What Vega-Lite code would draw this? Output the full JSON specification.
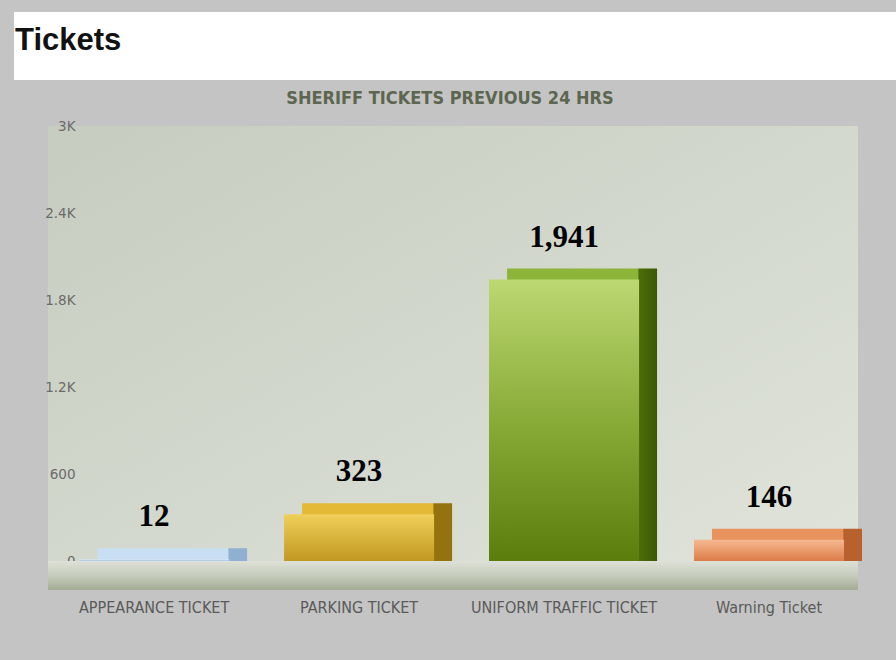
{
  "$schema": "https://vega.github.io/schema/vega-lite/v6.json",
  "background": "#c4c4c4",
  "padding": {"left": 14, "top": 12, "right": 0, "bottom": 48},
  "spacing": 10,
  "center": true,
  "config": {"view": {"stroke": null}},
  "vconcat": [
    {
      "width": 882,
      "height": 68,
      "view": {"fill": "#ffffff", "stroke": null},
      "data": {"values": [{"heading": "Tickets"}]},
      "mark": {"type": "text", "align": "left", "baseline": "middle", "font": "Liberation Sans", "fontWeight": "bold", "fontSize": 31, "color": "#111111", "dx": 1, "dy": -5},
      "encoding": {
        "x": {"datum": 0, "type": "quantitative", "scale": {"domain": [0, 1]}, "axis": null},
        "text": {"field": "heading", "type": "nominal"}
      }
    },
    {
      "width": 810,
      "height": 464,
      "view": {"fill": {"gradient": "linear", "x1": 0, "y1": 0, "x2": 1, "y2": 1, "stops": [{"offset": 0, "color": "#c7ccc0"}, {"offset": 1, "color": "#e0e4db"}]}, "stroke": null},
      "title": {"text": "SHERIFF TICKETS PREVIOUS 24 HRS", "font": "DejaVu Sans Condensed", "fontWeight": "bold", "fontSize": 18, "color": "#5c6650", "anchor": "middle", "offset": 11, "dx": -3},
      "data": {"values": [
        {"ticket": "APPEARANCE TICKET", "count": 12},
        {"ticket": "PARKING TICKET", "count": 323},
        {"ticket": "UNIFORM TRAFFIC TICKET", "count": 1941},
        {"ticket": "Warning Ticket", "count": 146}
      ]},
      "layer": [
        {
          "data": {"values": [{"part": "floor"}]},
          "mark": {"type": "rect", "color": {"gradient": "linear", "x1": 0, "y1": 0, "x2": 0, "y2": 1, "stops": [{"offset": 0, "color": "#dde1d7"}, {"offset": 0.5, "color": "#c6ccbc"}, {"offset": 1, "color": "#a3ac96"}]}},
          "encoding": {
            "y": {"datum": 0, "type": "quantitative", "title": null},
            "y2": {"datum": -200}
          }
        },
        {
          "transform": [{"filter": "datum.ticket == 'APPEARANCE TICKET'"}],
          "mark": {"type": "bar", "xOffset": 18, "yOffset": -11, "color": {"gradient": "linear", "x1": 0, "y1": 0, "x2": 1, "y2": 0, "stops": [{"offset": 0, "color": "#c8def2"}, {"offset": 0.87, "color": "#c8def2"}, {"offset": 0.88, "color": "#8fb0d0"}, {"offset": 1, "color": "#8fb0d0"}]}},
          "encoding": {
            "x": {"field": "ticket", "type": "nominal", "sort": null, "title": null,
              "scale": {"domain": ["APPEARANCE TICKET", "PARKING TICKET", "UNIFORM TRAFFIC TICKET", "Warning Ticket"], "paddingInner": 0.268, "paddingOuter": 0.11, "align": 0.69},
              "axis": {"labelAngle": 0, "domain": false, "ticks": false, "labelPadding": 9, "labelLimit": 300, "labelFont": "DejaVu Sans Condensed", "labelFontSize": 16, "labelColor": "#5a5a5a"}},
            "y": {"field": "count", "type": "quantitative", "title": null,
              "scale": {"domain": [-200, 3000], "nice": false, "zero": false},
              "axis": {"values": [0, 600, 1200, 1800, 2400, 3000], "labelExpr": "datum.value >= 1000 ? format(datum.value / 1000, '.1~f') + 'K' : datum.label", "domain": false, "ticks": false, "labelPadding": -27, "minExtent": 0, "labelFont": "DejaVu Sans", "labelFontSize": 13.5, "labelColor": "#6a6a6a", "gridColor": "#bcc3b5", "gridWidth": 1}},
            "y2": {"datum": 0}
          }
        },
        {
          "transform": [{"filter": "datum.ticket == 'PARKING TICKET'"}],
          "mark": {"type": "bar", "xOffset": 18, "yOffset": -11, "color": {"gradient": "linear", "x1": 0, "y1": 0, "x2": 1, "y2": 0, "stops": [{"offset": 0, "color": "#e3b935"}, {"offset": 0.87, "color": "#e3b935"}, {"offset": 0.88, "color": "#94730f"}, {"offset": 1, "color": "#94730f"}]}},
          "encoding": {
            "x": {"field": "ticket", "type": "nominal", "sort": null, "title": null},
            "y": {"field": "count", "type": "quantitative", "title": null},
            "y2": {"datum": 0}
          }
        },
        {
          "transform": [{"filter": "datum.ticket == 'UNIFORM TRAFFIC TICKET'"}],
          "mark": {"type": "bar", "xOffset": 18, "yOffset": -11, "color": {"gradient": "linear", "x1": 0, "y1": 0, "x2": 1, "y2": 0, "stops": [{"offset": 0, "color": "#8db53a"}, {"offset": 0.87, "color": "#8db53a"}, {"offset": 0.88, "color": "#4b6d0a"}, {"offset": 1, "color": "#3c5806"}]}},
          "encoding": {
            "x": {"field": "ticket", "type": "nominal", "sort": null, "title": null},
            "y": {"field": "count", "type": "quantitative", "title": null},
            "y2": {"datum": 0}
          }
        },
        {
          "transform": [{"filter": "datum.ticket == 'Warning Ticket'"}],
          "mark": {"type": "bar", "xOffset": 18, "yOffset": -11, "color": {"gradient": "linear", "x1": 0, "y1": 0, "x2": 1, "y2": 0, "stops": [{"offset": 0, "color": "#e8935e"}, {"offset": 0.87, "color": "#e8935e"}, {"offset": 0.88, "color": "#b8602e"}, {"offset": 1, "color": "#b8602e"}]}},
          "encoding": {
            "x": {"field": "ticket", "type": "nominal", "sort": null, "title": null},
            "y": {"field": "count", "type": "quantitative", "title": null},
            "y2": {"datum": 0}
          }
        },
        {
          "transform": [{"filter": "datum.ticket == 'APPEARANCE TICKET'"}],
          "mark": {"type": "bar", "color": {"gradient": "linear", "x1": 0, "y1": 0, "x2": 0, "y2": 1, "stops": [{"offset": 0, "color": "#dceaf7"}, {"offset": 1, "color": "#a6c5e4"}]}},
          "encoding": {
            "x": {"field": "ticket", "type": "nominal", "sort": null, "title": null},
            "y": {"field": "count", "type": "quantitative", "title": null}
          }
        },
        {
          "transform": [{"filter": "datum.ticket == 'PARKING TICKET'"}],
          "mark": {"type": "bar", "color": {"gradient": "linear", "x1": 0, "y1": 0, "x2": 0, "y2": 1, "stops": [{"offset": 0, "color": "#f0d05a"}, {"offset": 1, "color": "#c19821"}]}},
          "encoding": {
            "x": {"field": "ticket", "type": "nominal", "sort": null, "title": null},
            "y": {"field": "count", "type": "quantitative", "title": null}
          }
        },
        {
          "transform": [{"filter": "datum.ticket == 'UNIFORM TRAFFIC TICKET'"}],
          "mark": {"type": "bar", "color": {"gradient": "linear", "x1": 0, "y1": 0, "x2": 0, "y2": 1, "stops": [{"offset": 0, "color": "#bcd872"}, {"offset": 0.5, "color": "#89ab38"}, {"offset": 1, "color": "#5a7d0c"}]}},
          "encoding": {
            "x": {"field": "ticket", "type": "nominal", "sort": null, "title": null},
            "y": {"field": "count", "type": "quantitative", "title": null}
          }
        },
        {
          "transform": [{"filter": "datum.ticket == 'Warning Ticket'"}],
          "mark": {"type": "bar", "color": {"gradient": "linear", "x1": 0, "y1": 0, "x2": 0, "y2": 1, "stops": [{"offset": 0, "color": "#f6b890"}, {"offset": 1, "color": "#dc7c48"}]}},
          "encoding": {
            "x": {"field": "ticket", "type": "nominal", "sort": null, "title": null},
            "y": {"field": "count", "type": "quantitative", "title": null}
          }
        },
        {
          "mark": {"type": "text", "baseline": "bottom", "dy": -26, "font": "Liberation Serif", "fontWeight": "bold", "fontSize": 31, "color": "#000000"},
          "encoding": {
            "x": {"field": "ticket", "type": "nominal", "sort": null, "title": null},
            "y": {"field": "count", "type": "quantitative", "title": null},
            "text": {"field": "count", "type": "quantitative", "format": ",d"}
          }
        }
      ]
    }
  ]
}
